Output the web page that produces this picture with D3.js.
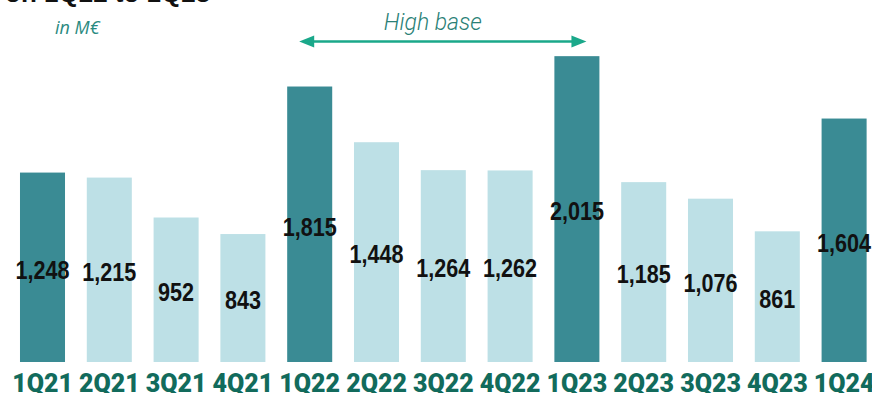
<!DOCTYPE html>
<html><head><meta charset="utf-8">
<script src="https://cdn.jsdelivr.net/npm/d3@7"></script>
<style>body{margin:0;background:#fff}</style>
</head><body>
<svg id="c" width="872" height="393"></svg>
<script>
const categories = ["1Q21","2Q21","3Q21","4Q21","1Q22","2Q22","3Q22","4Q22","1Q23","2Q23","3Q23","4Q23","1Q24"];
const values = [1248,1215,952,843,1815,1448,1264,1262,2015,1185,1076,861,1604];
const highlighted = ["1Q21","1Q22","1Q23","1Q24"];
const unitLabel = "in M€";
const bracketLabel = "High base";
const bracketFrom = "1Q22", bracketTo = "1Q23";
const titleText = "on 1Q22 to 1Q23";

const svg = d3.select("#c");
const x = d3.scaleBand().domain(categories).range([9.1, 877.5]).paddingInner(0.326).paddingOuter(0.163);
const y = d3.scaleLinear().domain([0, 2385]).range([362, 0]);
const fmt = d3.format(",");

svg.append("text").attr("x", 5).attr("y", 2).attr("font-family","Liberation Sans, Arial, sans-serif")
  .attr("font-weight","bold").attr("font-size",26).attr("fill","#111").text(titleText);

svg.append("text").attr("x", 55).attr("y", 34).attr("font-family","Open Sans, sans-serif")
  .attr("font-style","italic").attr("font-size",18).attr("fill","#2a8a80").text(unitLabel);

svg.selectAll("rect.bar").data(categories).join("rect").attr("class","bar")
  .attr("x", d => x(d)).attr("width", x.bandwidth())
  .attr("y", (d,i) => y(values[i])).attr("height", (d,i) => y(0) - y(values[i]))
  .attr("fill", d => highlighted.includes(d) ? "#3a8b94" : "#bde0e6");

svg.selectAll("text.val").data(categories).join("text").attr("class","val")
  .attr("transform", (d,i) => `translate(${x(d) + x.bandwidth()/2},${(y(values[i]) + y(0))/2 + 2}) scale(0.83,1)`)
  .attr("text-anchor","middle").attr("dominant-baseline","central")
  .attr("font-family","Liberation Sans, Arial, sans-serif")
  .attr("font-weight","bold").attr("font-size",26).attr("fill","#111")
  .text((d,i) => fmt(values[i]));

const xAxis = svg.append("g").attr("transform","translate(0,362)")
  .call(d3.axisBottom(x).tickSize(0).tickPadding(0));
xAxis.select(".domain").remove();
xAxis.selectAll("text").attr("y", 29.5).attr("dy", 0)
  .attr("font-family","Roboto, sans-serif").attr("font-weight",900).attr("font-size",25)
  .attr("fill","#126b5c");

// bracket arrow
const ax1 = x(bracketFrom) + 12, ax2 = x(bracketTo) + x.bandwidth() - 13, ay = 41.5;
const arrowCol = "#1aa88a";
svg.append("line").attr("x1", ax1 + 10).attr("x2", ax2 - 10).attr("y1", ay).attr("y2", ay)
  .attr("stroke", arrowCol).attr("stroke-width", 2.5);
svg.append("path").attr("d", `M${ax1},${ay} L${ax1+15},${ay-6} L${ax1+15},${ay+6} Z`).attr("fill", arrowCol);
svg.append("path").attr("d", `M${ax2},${ay} L${ax2-15},${ay-6} L${ax2-15},${ay+6} Z`).attr("fill", arrowCol);
svg.append("text").attr("x", (ax1+ax2)/2 - 10).attr("y", 30).attr("text-anchor","middle")
  .attr("font-family","Roboto, sans-serif").attr("font-weight",300).attr("font-style","italic")
  .attr("font-size",23).attr("fill","#2a7f76").text(bracketLabel);
</script>
</body></html>
